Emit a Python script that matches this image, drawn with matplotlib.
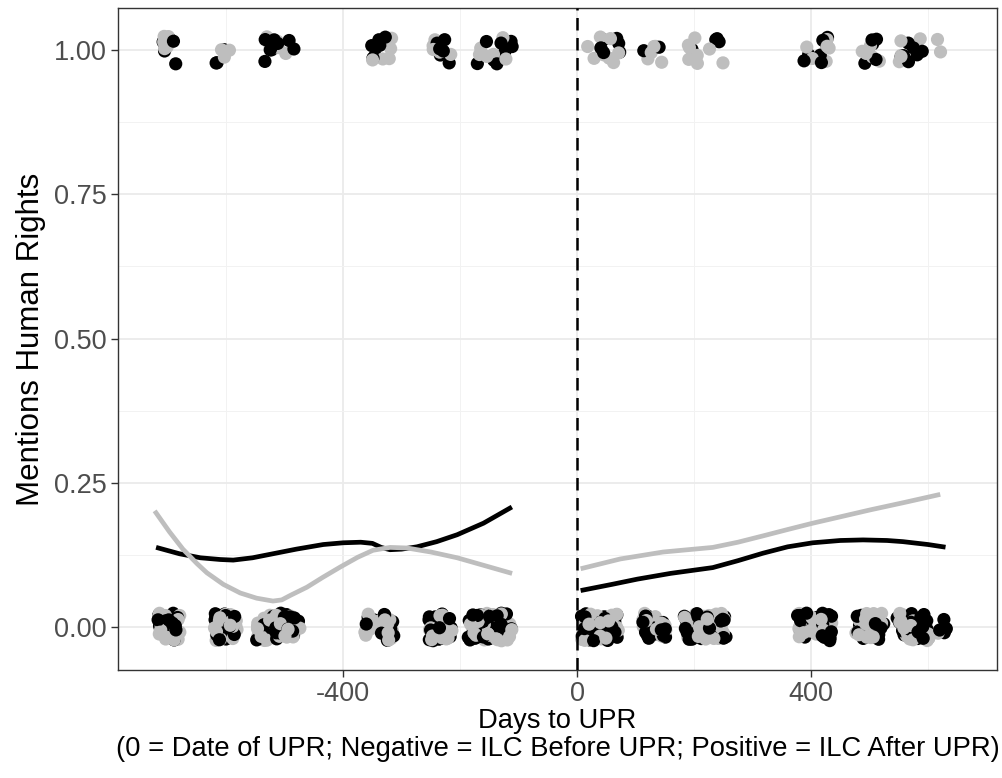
import matplotlib
matplotlib.use("Agg")
import matplotlib.pyplot as plt
import numpy as np

plt.rcParams['font.family'] = ['Liberation Sans', 'DejaVu Sans']
plt.rcParams['axes.unicode_minus'] = False

# clusters of ILC documents (day offset to UPR), mention = 1
top_days = [-699, -607, -504, -335, -231, -144, 44, 128, 222, 412, 499, 573, 620]
top_black = [5, 3, 9, 6, 6, 8, 6, 2, 4, 7, 5, 7, 0]
top_grey = [5, 3, 6, 5, 5, 6, 8, 5, 8, 6, 5, 5, 2]
top_spread = [16, 15, 30, 20, 16, 38, 30, 18, 33, 26, 20, 26, 6]

# mention = 0
bottom_days = [-699, -602, -511, -338, -234, -149, 39, 132, 219, 407, 501, 574, 624]
bottom_black = [20, 18, 35, 18, 20, 35, 30, 20, 28, 22, 20, 25, 6]
bottom_grey = [20, 22, 35, 22, 20, 35, 30, 20, 32, 28, 25, 25, 1]
bottom_spread = [20, 22, 40, 25, 22, 38, 32, 20, 36, 30, 25, 28, 8]

# loess curves
black_pre_x = [-716, -680, -644, -610, -588, -555, -520, -480, -434, -400, -370,
               -350, -335, -320, -300, -274, -240, -205, -160, -115]
black_pre_y = [0.137, 0.127, 0.120, 0.117, 0.116, 0.120, 0.127, 0.135, 0.143, 0.146, 0.147,
               0.145, 0.138, 0.134, 0.135, 0.139, 0.148, 0.160, 0.180, 0.206]
grey_pre_x = [-720, -697, -674, -650, -633, -605, -576, -548, -520, -505, -490, -462,
              -435, -405, -375, -349, -320, -291, -250, -205, -160, -115]
grey_pre_y = [0.198, 0.165, 0.135, 0.110, 0.094, 0.074, 0.059, 0.050, 0.045, 0.047, 0.055, 0.069,
              0.086, 0.104, 0.121, 0.133, 0.138, 0.137, 0.130, 0.120, 0.107, 0.094]
black_post_x = [10, 60, 103, 160, 232, 275, 318, 360, 403, 450, 489, 530, 557, 600, 626]
black_post_y = [0.064, 0.074, 0.083, 0.093, 0.103, 0.115, 0.128, 0.139, 0.146, 0.150, 0.151,
                0.150, 0.148, 0.143, 0.139]
grey_post_x = [10, 74, 147, 200, 232, 275, 318, 360, 403, 450, 501, 560, 617]
grey_post_y = [0.102, 0.118, 0.130, 0.135, 0.138, 0.147, 0.158, 0.169, 0.180, 0.191, 0.203,
               0.216, 0.229]

BLACK = "#000000"
GREY = "#BEBEBE"

# geom_jitter-style display offsets
rng = np.random.default_rng(7)
xs, ys, cs = [], [], []
for level, days, nb, ng, sp in [(1.0, top_days, top_black, top_grey, top_spread),
                                (0.0, bottom_days, bottom_black, bottom_grey, bottom_spread)]:
    for d, b, g, s in zip(days, nb, ng, sp):
        for n, c in [(b, BLACK), (g, GREY)]:
            xs += list(d + rng.uniform(-s, s, n))
            ys += list(level + rng.uniform(-0.024, 0.024, n))
            cs += [c] * n
order = rng.permutation(len(xs))
xs = np.array(xs)[order]
ys = np.array(ys)[order]
cs = np.array(cs)[order]

fig = plt.figure(figsize=(10.03, 7.78), dpi=100)
ax = fig.add_axes([118/1003, 1-670/778, (997-118)/1003, (670-8)/778])

ax.scatter(xs, ys, c=cs, s=90, linewidths=0, zorder=3)
ax.plot(black_pre_x, black_pre_y, color=BLACK, lw=3.4, zorder=4)
ax.plot(black_post_x, black_post_y, color=BLACK, lw=3.4, zorder=4)
ax.plot(grey_pre_x, grey_pre_y, color=GREY, lw=3.4, zorder=5)
ax.plot(grey_post_x, grey_post_y, color=GREY, lw=3.4, zorder=5)
ax.axvline(0, color=BLACK, lw=1.8, ls=(0, (5, 3)), zorder=6)

ax.set_xlim(-785, 718)
ax.set_ylim(-0.0745, 1.073)
ax.set_xticks([-400, 0, 400])
ax.set_xticklabels(["-400", "0", "400"])
ax.set_xticks([-600, -200, 200, 600], minor=True)
ax.set_yticks([0, 0.25, 0.5, 0.75, 1.0])
ax.set_yticklabels(["0.00", "0.25", "0.50", "0.75", "1.00"])
ax.set_yticks([0.125, 0.375, 0.625, 0.875], minor=True)
ax.grid(which='major', color="#EBEBEB", lw=1.3, zorder=0)
ax.grid(which='minor', color="#F2F2F2", lw=0.7, zorder=0)
ax.set_axisbelow(True)
for sp in ax.spines.values():
    sp.set_color("#333333")
    sp.set_linewidth(1.0)
ax.tick_params(which='major', length=5, width=1.0, color="#333333",
               labelsize=19.5, labelcolor="#4D4D4D", pad=3)
ax.tick_params(which='minor', length=0)

ax.set_ylabel("Mentions Human Rights", fontsize=22.5, labelpad=6)
ax.set_xlabel("Days to UPR\n(0 = Date of UPR; Negative = ILC Before UPR; Positive = ILC After UPR)",
              fontsize=19.7, labelpad=1, linespacing=1.1)

fig.savefig("out.png", dpi=100)
